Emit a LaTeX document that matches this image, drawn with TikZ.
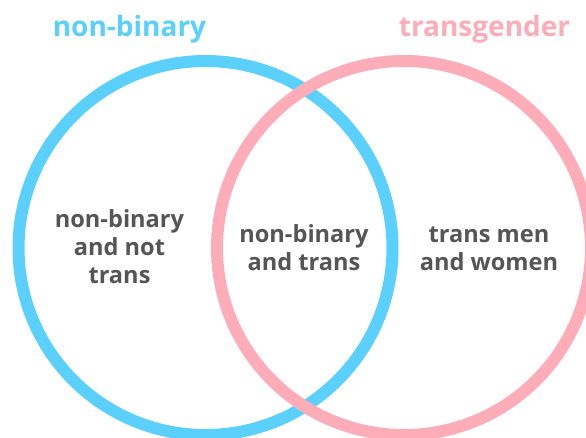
\documentclass[tikz,border=0pt]{standalone}
\usepackage{fontspec}
\setmainfont{Open Sans}
\definecolor{nbblue}{HTML}{5BD0FD}
\definecolor{trpink}{HTML}{FFACB9}
\definecolor{txtgray}{HTML}{555555}
\begin{document}
\begin{tikzpicture}[x=1pt,y=-1pt,
  ring/.style={line width=12pt},
  title/.style={anchor=base,inner sep=0pt,font=\fontsize{28}{32}\selectfont\bfseries},
  region/.style={align=center,inner sep=0pt,text=txtgray,font=\fontsize{23.6}{28}\selectfont\bfseries}]
\useasboundingbox (0,0) rectangle (586,437);
\draw[ring,nbblue] (205.5,248) circle[radius=187];
\draw[ring,trpink] (404,248) circle[radius=187];
\node[title,text=nbblue] (tnb) at (129.5,36) {non-binary};
\node[title,text=trpink] (ttr) at (484.5,36) {transgender};
\node[region] (left) at (119.5,247) {non-binary\\and not\\trans};
\node[region] (mid) at (304,248) {non-binary\\and trans};
\node[region] (right) at (489,249) {trans men\\and women};
\end{tikzpicture}
\end{document}
